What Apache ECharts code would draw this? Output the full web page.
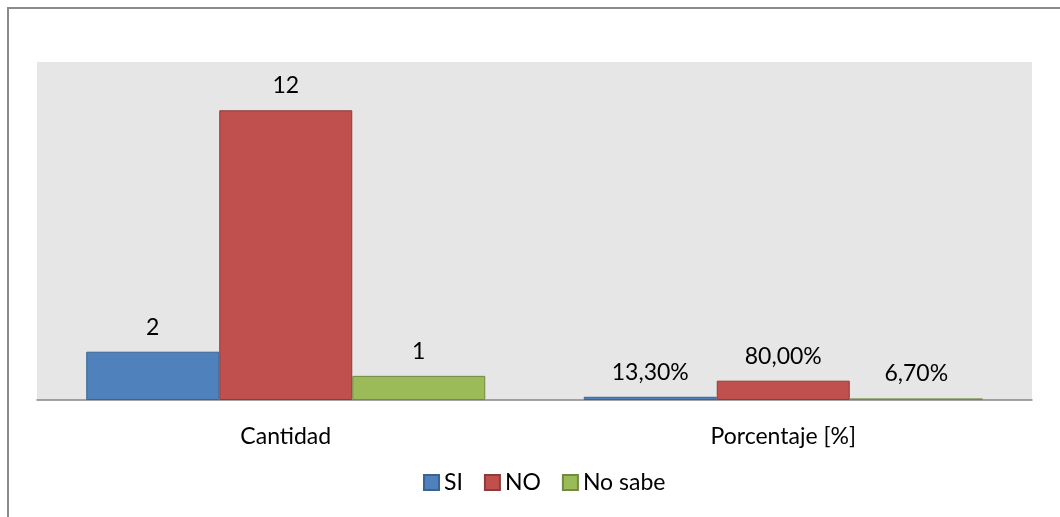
<!DOCTYPE html>
<html>
<head>
<meta charset="utf-8">
<script src="https://cdn.jsdelivr.net/npm/echarts@6/dist/echarts.min.js"></script>
<style>
html,body{margin:0;padding:0;background:#fff;}
#chart{width:1060px;height:517px;}
</style>
</head>
<body>
<div id="chart"></div>
<script>
const categories = ['Cantidad', 'Porcentaje [%]'];
const seriesNames = ['SI', 'NO', 'No sabe'];
const siValues = [2, 0.133];
const noValues = [12, 0.8];
const noSabeValues = [1, 0.067];
const siLabels = ['2', '13,30%'];
const noLabels = ['12', '80,00%'];
const noSabeLabels = ['1', '6,70%'];

const FONT = 'Lato';
const FS = 23;
const chart = echarts.init(document.getElementById('chart'), null, {renderer: 'canvas'});

function mk(name, values, labels, color, border) {
  return {
    name: name,
    type: 'bar',
    data: values,
    barWidth: 133,
    barGap: '0%',
    itemStyle: {color: color, borderColor: border, borderWidth: 1},
    label: {
      show: true,
      position: 'top',
      distance: 13,
      color: '#000',
      fontFamily: FONT,
      fontSize: FS,
      formatter: p => labels[p.dataIndex]
    }
  };
}

chart.setOption({
  animation: false,
  backgroundColor: '#fff',
  graphic: [{
    type: 'rect',
    shape: {x: 8, y: 8, width: 1100, height: 600},
    style: {fill: 'none', stroke: '#8a8a8a', lineWidth: 2},
    silent: true, z: 100
  }],
  grid: {
    left: 37, right: 28, top: 62, bottom: 117,
    show: true, backgroundColor: '#e6e6e6', borderWidth: 0
  },
  legend: {
    data: seriesNames,
    bottom: 18,
    left: 418,
    itemWidth: 15, itemHeight: 15, itemGap: 21,
    icon: 'rect',
    textStyle: {fontFamily: FONT, fontSize: FS, color: '#000'}
  },
  xAxis: {
    type: 'category',
    data: categories,
    axisLine: {show: true, lineStyle: {color: '#868686', width: 1.5}},
    axisTick: {show: false},
    axisLabel: {fontFamily: FONT, fontSize: FS, color: '#000', margin: 25},
    splitLine: {show: false}
  },
  yAxis: {
    type: 'value',
    min: 0, max: 14,
    show: false,
    splitLine: {show: false}
  },
  series: [
    mk(seriesNames[0], siValues, siLabels, '#4f81bd', '#3a6494'),
    mk(seriesNames[1], noValues, noLabels, '#c0504d', '#8f3b39'),
    mk(seriesNames[2], noSabeValues, noSabeLabels, '#9bbb59', '#728a42')
  ]
});
</script>
</body>
</html>
